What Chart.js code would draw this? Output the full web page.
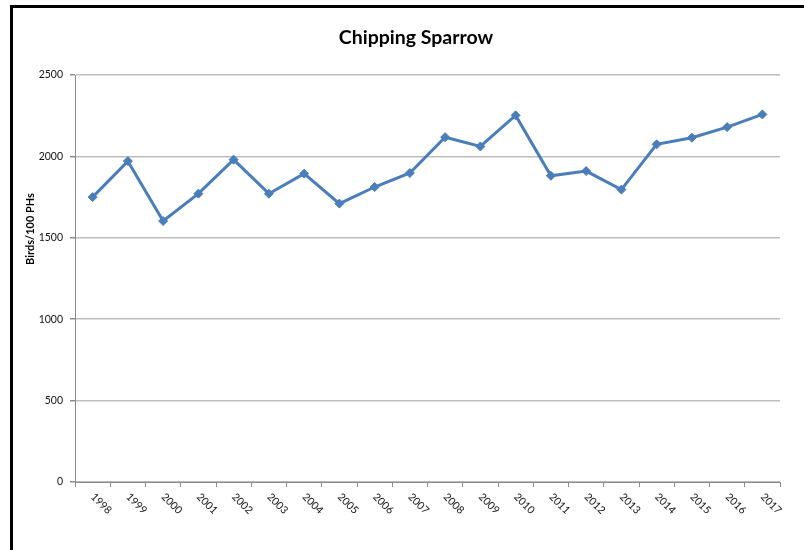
<!DOCTYPE html>
<html>
<head>
<meta charset="utf-8">
<script src="https://cdn.jsdelivr.net/npm/chart.js@4.4.1/dist/chart.umd.min.js"></script>
<style>
  html, body { margin: 0; padding: 0; background: #fff; }
  #wrap { position: relative; width: 804px; height: 550px; }
</style>
</head>
<body>
<div id="wrap"><canvas id="c" width="804" height="550"></canvas></div>
<script>
// Survey years and counts (birds per 100 party-hours)
const years = ['1998', '1999', '2000', '2001', '2002', '2003', '2004', '2005', '2006', '2007',
               '2008', '2009', '2010', '2011', '2012', '2013', '2014', '2015', '2016', '2017'];
const birdsPer100PH = [1750, 1971, 1603, 1771, 1980, 1771, 1894, 1710, 1812, 1898,
                       2118, 2061, 2252, 1881, 1910, 1796, 2074, 2115, 2180, 2258];
const yTicks = [0, 500, 1000, 1500, 2000, 2500];
const chartTitle = 'Chipping Sparrow';
const yAxisTitle = 'Birds/100 PHs';

const LINE_BLUE = '#4a7ebb';
const GRID_GREY = '#bdbdbd';
const AXIS_GREY = '#8c8c8c';

// White background plus the black frame along the top and left edges
const framePlugin = {
  id: 'frame',
  beforeDraw(chart) {
    const ctx = chart.ctx;
    ctx.save();
    ctx.fillStyle = '#fff';
    ctx.fillRect(0, 0, chart.width, chart.height);
    ctx.fillStyle = '#000';
    ctx.fillRect(10, 5, 3, chart.height - 5);
    ctx.fillRect(10, 5, chart.width - 10, 3);
    ctx.restore();
  }
};

// Title, rotated axis title and slanted year labels
const textPlugin = {
  id: 'texts',
  afterDraw(chart) {
    const ctx = chart.ctx;
    ctx.save();
    ctx.fillStyle = '#000';
    ctx.font = 'bold 19.5px Lato';
    ctx.textAlign = 'center';
    ctx.textBaseline = 'alphabetic';
    ctx.fillText(chartTitle, 416, 44);

    ctx.save();
    ctx.translate(30, 229);
    ctx.rotate(-Math.PI / 2);
    ctx.font = 'bold 11px Lato';
    ctx.textAlign = 'center';
    ctx.textBaseline = 'middle';
    ctx.fillText(yAxisTitle, 0, 0);
    ctx.restore();

    const xs = chart.scales.x;
    ctx.font = '10.5px Lato';
    ctx.fillStyle = '#111';
    years.forEach((label, i) => {
      const x = xs.getPixelForValue(i);
      ctx.save();
      ctx.translate(x, xs.top + 13);
      ctx.rotate(Math.PI / 4);
      ctx.textAlign = 'left';
      ctx.textBaseline = 'middle';
      ctx.fillText(label, 0, 0);
      ctx.restore();
    });
    ctx.restore();
  }
};

new Chart(document.getElementById('c'), {
  type: 'line',
  data: {
    labels: years,
    datasets: [{
      data: birdsPer100PH,
      borderColor: LINE_BLUE,
      backgroundColor: LINE_BLUE,
      borderWidth: 3,
      pointStyle: 'rectRot',
      pointRadius: 4.5,
      pointBorderWidth: 1,
      pointBackgroundColor: LINE_BLUE,
      pointBorderColor: LINE_BLUE,
      tension: 0,
      fill: false
    }]
  },
  options: {
    responsive: false,
    devicePixelRatio: 1,
    animation: false,
    events: [],
    layout: { padding: { top: 75, right: 24, left: 0, bottom: 0 } },
    plugins: {
      legend: { display: false },
      title: { display: false },
      tooltip: { enabled: false }
    },
    scales: {
      x: {
        type: 'category',
        offset: true,
        grid: {
          offset: true,
          drawOnChartArea: false,
          drawTicks: true,
          tickLength: 5,
          color: AXIS_GREY,
          lineWidth: 1
        },
        border: { color: AXIS_GREY, width: 1 },
        ticks: { display: false },
        afterFit(scale) { scale.height = 68; }
      },
      y: {
        min: yTicks[0],
        max: yTicks[yTicks.length - 1],
        grid: {
          color: GRID_GREY,
          lineWidth: 1.5,
          drawTicks: true,
          tickLength: 5,
          tickColor: AXIS_GREY
        },
        border: { color: AXIS_GREY, width: 1 },
        ticks: {
          stepSize: yTicks[1] - yTicks[0],
          padding: 7,
          color: '#111',
          font: { family: 'Lato', size: 10.5 },
          callback: (value) => String(value)
        },
        afterFit(scale) { scale.width = 75; }
      }
    }
  },
  plugins: [framePlugin, textPlugin]
});
</script>
</body>
</html>
